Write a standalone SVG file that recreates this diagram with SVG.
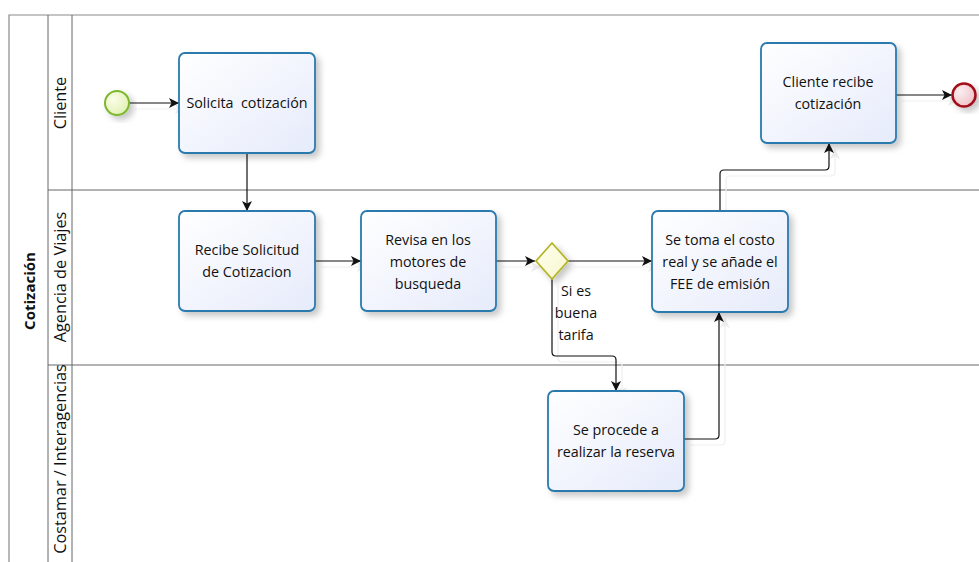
<svg xmlns="http://www.w3.org/2000/svg" width="979" height="562" viewBox="0 0 979 562">
  <defs>
    <linearGradient id="taskFill" x1="0" y1="0" x2="1" y2="1">
      <stop offset="0" stop-color="#ffffff"/>
      <stop offset="1" stop-color="#e6ebfb"/>
    </linearGradient>
    <radialGradient id="startFill" cx="0.35" cy="0.35" r="0.75">
      <stop offset="0" stop-color="#fbfde8"/>
      <stop offset="1" stop-color="#e0f0b0"/>
    </radialGradient>
    <radialGradient id="endFill" cx="0.35" cy="0.35" r="0.75">
      <stop offset="0" stop-color="#fbeef0"/>
      <stop offset="1" stop-color="#eec0c6"/>
    </radialGradient>
    <linearGradient id="gwFill" x1="0" y1="0" x2="1" y2="1">
      <stop offset="0" stop-color="#ffffee"/>
      <stop offset="1" stop-color="#f7f7cf"/>
    </linearGradient>
    <filter id="shadow" x="-20%" y="-20%" width="150%" height="150%">
      <feDropShadow dx="4" dy="4" stdDeviation="3" flood-color="#000" flood-opacity="0.22"/>
    </filter>
    <marker id="arrow" viewBox="0 0 10 10" refX="10" refY="5" markerWidth="10" markerHeight="10" markerUnits="userSpaceOnUse" orient="auto">
      <path d="M0,0 L10,5 L0,10 L2.5,5 Z" fill="#111"/>
    </marker>
    <marker id="arrowFaint" viewBox="0 0 10 10" refX="10" refY="5" markerWidth="10" markerHeight="10" markerUnits="userSpaceOnUse" orient="auto">
      <path d="M0,0 L10,5 L0,10 L2.5,5 Z" fill="#ececec"/>
    </marker>
  </defs>
  <style>
    .pool { fill: #ffffff; stroke: #8a8a8a; stroke-width: 1.2; }
    .lane { fill: none; stroke: #666666; stroke-width: 1; }
    .task { fill: url(#taskFill); stroke: #2a7aae; stroke-width: 1.8; filter: url(#shadow); }
    .label { font-family: "Open Sans", "Noto Sans", sans-serif; font-size: 14.3px; fill: #111; text-anchor: middle; }
    .lanelabel { font-family: "Open Sans", "Noto Sans", sans-serif; font-size: 16.3px; fill: #111; text-anchor: middle; }
    .poollabel { font-family: "Open Sans", "Noto Sans", sans-serif; font-size: 15px; font-weight: bold; fill: #111; text-anchor: middle; }
    .flow { fill: none; stroke: #111; stroke-width: 1.2; marker-end: url(#arrow); }
    .flowShadow { fill: none; stroke: #efefef; stroke-width: 1.2; marker-end: url(#arrowFaint); }
  </style>

  <rect width="979" height="562" fill="#ffffff"/>

  <!-- pool and lanes -->
  <g id="pool">
    <path class="pool" d="M979,15 H9 V570"/>
    <line class="lane" x1="48" y1="15" x2="48" y2="570"/>
    <line class="lane" x1="72" y1="15" x2="72" y2="570"/>
    <line class="lane" x1="48" y1="190" x2="979" y2="190"/>
    <line class="lane" x1="48" y1="365" x2="979" y2="365"/>
    <text class="poollabel" transform="translate(35,291) rotate(-90)">Cotización</text>
  </g>
  <g id="lane-cliente">
    <text class="lanelabel" transform="translate(66,103) rotate(-90)">Cliente</text>
  </g>
  <g id="lane-agencia">
    <text class="lanelabel" transform="translate(66,277) rotate(-90)">Agencia de Viajes</text>
  </g>
  <g id="lane-costamar">
    <text class="lanelabel" transform="translate(66,459) rotate(-90)">Costamar / Interagencias</text>
  </g>

  <!-- connectors -->
  <g id="connectors">
    <g transform="translate(6,6)">
      <path class="flowShadow" d="M129,103 H179"/>
      <path class="flowShadow" d="M315,261 H361"/>
      <path class="flowShadow" d="M496,261 H535"/>
      <path class="flowShadow" d="M568,261 H652"/>
      <path class="flowShadow" d="M552,279 V352 Q552,356 556,356 H612 Q616,356 616,360 V391"/>
      <path class="flowShadow" d="M684,439 H715 Q719,439 719,435 V312"/>
      <path class="flowShadow" d="M720,211 V174 Q720,170 724,170 H825 Q829,170 829,166 V143"/>
      <path class="flowShadow" d="M896,95 H952"/>
    </g>
    <path class="flow" d="M129,103 H179"/>
    <path class="flow" d="M247,153 V211"/>
    <path class="flow" d="M315,261 H361"/>
    <path class="flow" d="M496,261 H535"/>
    <path class="flow" d="M568,261 H652"/>
    <path class="flow" d="M552,279 V352 Q552,356 556,356 H612 Q616,356 616,360 V391"/>
    <text class="label" x="576" y="296">Si es</text>
    <text class="label" x="576" y="318">buena</text>
    <text class="label" x="576" y="340">tarifa</text>
    <path class="flow" d="M684,439 H715 Q719,439 719,435 V312"/>
    <path class="flow" d="M720,211 V174 Q720,170 724,170 H825 Q829,170 829,166 V143"/>
    <path class="flow" d="M896,95 H952"/>
  </g>

  <!-- nodes -->
  <g id="start">
    <circle cx="117" cy="103" r="12" fill="url(#startFill)" stroke="#7cb82f" stroke-width="2" filter="url(#shadow)"/>
  </g>
  <g id="task-solicita">
    <rect class="task" x="179" y="53" width="136" height="100" rx="6"/>
    <text class="label" x="247" y="108" xml:space="preserve">Solicita  cotización</text>
  </g>
  <g id="task-recibe">
    <rect class="task" x="179" y="211" width="136" height="100" rx="6"/>
    <text class="label" x="247" y="255">Recibe Solicitud</text>
    <text class="label" x="247" y="277">de Cotizacion</text>
  </g>
  <g id="task-revisa">
    <rect class="task" x="361" y="211" width="135" height="100" rx="6"/>
    <text class="label" x="428" y="245">Revisa en los</text>
    <text class="label" x="428" y="267">motores de</text>
    <text class="label" x="428" y="289">busqueda</text>
  </g>
  <g id="gateway">
    <path d="M552,243 L568,261 L552,279 L536,261 Z" fill="url(#gwFill)" stroke="#b5b52a" stroke-width="1.8" filter="url(#shadow)"/>
  </g>
  <g id="task-costo">
    <rect class="task" x="652" y="211" width="136" height="101" rx="6"/>
    <text class="label" x="720" y="245">Se toma el costo</text>
    <text class="label" x="720" y="267">real y se añade el</text>
    <text class="label" x="720" y="289">FEE de emisión</text>
  </g>
  <g id="task-reserva">
    <rect class="task" x="548" y="391" width="136" height="100" rx="6"/>
    <text class="label" x="616" y="435">Se procede a</text>
    <text class="label" x="616" y="457">realizar la reserva</text>
  </g>
  <g id="task-cliente-recibe">
    <rect class="task" x="761" y="43" width="135" height="100" rx="6"/>
    <text class="label" x="828" y="87">Cliente recibe</text>
    <text class="label" x="828" y="109">cotización</text>
  </g>
  <g id="end">
    <circle cx="964" cy="95" r="11.5" fill="url(#endFill)" stroke="#a3111c" stroke-width="2.5" filter="url(#shadow)"/>
  </g>
</svg>
